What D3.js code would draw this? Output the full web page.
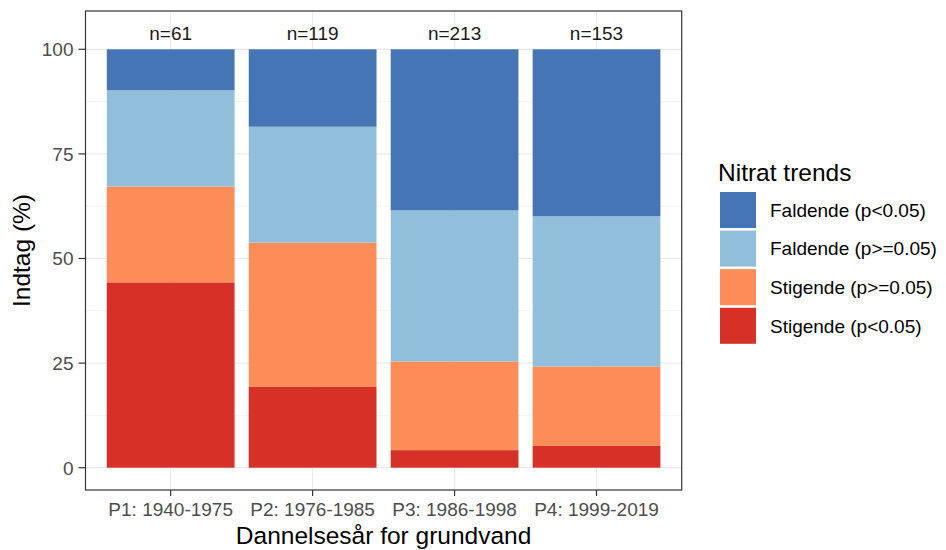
<!DOCTYPE html>
<html><head><meta charset="utf-8">
<script src="https://cdn.jsdelivr.net/npm/d3@7"></script>
<style>body{margin:0;background:#fff}svg{display:block;font-family:"Liberation Sans",Arial,sans-serif}</style>
</head><body><svg id="c" width="946" height="550"></svg>
<script>
const categories = ["P1: 1940-1975","P2: 1976-1985","P3: 1986-1998","P4: 1999-2019"];
const nLabels = ["n=61","n=119","n=213","n=153"];
const seriesNames = ["Stigende (p<0.05)","Stigende (p>=0.05)","Faldende (p>=0.05)","Faldende (p<0.05)"];
const stigSig = [44.3, 19.3, 4.2, 5.2];
const stigNs = [22.9, 34.5, 21.2, 19.0];
const faldNs = [23.0, 27.7, 36.1, 35.9];
const faldSig = [9.8, 18.5, 38.5, 39.9];
const yTicks = [0, 25, 50, 75, 100];
const colors = ["#d73027","#fc8d59","#91bfdb","#4575b4"];
const legendOrder = [3,2,1,0];

const svg = d3.select("#c");
const L = 85.5, R = 681.7, T = 11, B = 490;
const x = d3.scaleBand().domain(categories)
  .range([L, R]).paddingInner(0.1).paddingOuter(0.15);
const xc = d => x(d) + x.bandwidth() / 2;
const bw = x.bandwidth();
const y = d3.scaleLinear().domain([0, 100]).range([467.7, 49.3]);

const g = svg.append("g");
const minor = [12.5, 37.5, 62.5, 87.5];
g.selectAll(".ymin").data(minor).enter().append("line")
  .attr("x1", L).attr("x2", R).attr("y1", d => y(d)).attr("y2", d => y(d))
  .attr("stroke", "#ebebeb").attr("stroke-width", 0.6);
g.selectAll(".ymaj").data(yTicks).enter().append("line")
  .attr("x1", L).attr("x2", R).attr("y1", d => y(d)).attr("y2", d => y(d))
  .attr("stroke", "#ebebeb").attr("stroke-width", 1.2);
g.selectAll(".xmaj").data(categories).enter().append("line")
  .attr("x1", d => xc(d)).attr("x2", d => xc(d)).attr("y1", T).attr("y2", B)
  .attr("stroke", "#ebebeb").attr("stroke-width", 1.2);

const series = [stigSig, stigNs, faldNs, faldSig];
const rows = categories.map((c, i) => {
  const o = {cat: c};
  seriesNames.forEach((s, j) => o[s] = series[j][i]);
  return o;
});
const stack = d3.stack().keys(seriesNames)(rows);
stack.forEach((layer, j) => {
  g.selectAll(".bar" + j).data(layer).enter().append("rect")
    .attr("x", d => x(d.data.cat))
    .attr("width", bw)
    .attr("y", d => y(d[1]))
    .attr("height", d => y(d[0]) - y(d[1]))
    .attr("fill", colors[j]);
});

g.selectAll(".nl").data(categories).enter().append("text")
  .attr("x", d => xc(d)).attr("y", 40)
  .attr("text-anchor", "middle").attr("font-size", 19).attr("fill", "#1a1a1a")
  .text((d, i) => nLabels[i]);

svg.append("rect").attr("x", L).attr("y", T).attr("width", R - L).attr("height", B - T)
  .attr("fill", "none").attr("stroke", "#333333").attr("stroke-width", 1.2);

svg.selectAll(".yt").data(yTicks).enter().append("line")
  .attr("x1", L - 7).attr("x2", L).attr("y1", d => y(d)).attr("y2", d => y(d))
  .attr("stroke", "#333333").attr("stroke-width", 1.2);
svg.selectAll(".ytl").data(yTicks).enter().append("text")
  .attr("x", L - 12).attr("y", d => y(d)).attr("dy", "0.36em")
  .attr("text-anchor", "end").attr("font-size", 19).attr("fill", "#4d4d4d")
  .text(d => d);
svg.selectAll(".xt").data(categories).enter().append("line")
  .attr("x1", d => xc(d)).attr("x2", d => xc(d)).attr("y1", B).attr("y2", B + 6)
  .attr("stroke", "#333333").attr("stroke-width", 1.2);
svg.selectAll(".xtl").data(categories).enter().append("text")
  .attr("x", d => xc(d)).attr("y", B + 26)
  .attr("text-anchor", "middle").attr("font-size", 19).attr("fill", "#4d4d4d")
  .text(d => d);

svg.append("text").attr("x", (L + R)/2).attr("y", 544).attr("text-anchor", "middle")
  .attr("font-size", 24.5).attr("fill", "#000").text("Dannelsesår for grundvand");
svg.append("text").attr("transform", `translate(30,${(T+B)/2}) rotate(-90)`)
  .attr("text-anchor", "middle").attr("font-size", 24.5).attr("fill", "#000").text("Indtag (%)");

const lg = svg.append("g");
lg.append("text").attr("x", 718).attr("y", 181).attr("font-size", 24.5).attr("fill", "#000").text("Nitrat trends");
legendOrder.forEach((j, k) => {
  const yy = 192 + k * 38.6;
  lg.append("rect").attr("x", 720).attr("y", yy).attr("width", 36).attr("height", 36).attr("fill", colors[j]);
  lg.append("text").attr("x", 770).attr("y", yy + 18).attr("dy", "0.36em")
    .attr("font-size", 19).attr("fill", "#000").text(seriesNames[j]);
});
</script></body></html>
